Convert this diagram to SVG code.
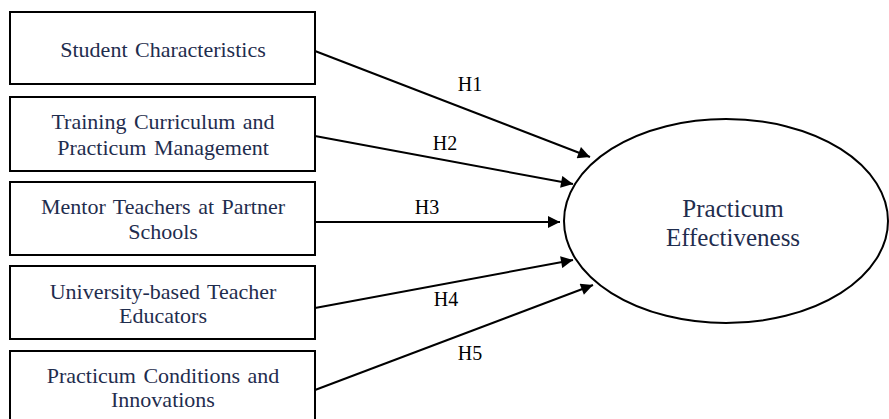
<svg xmlns="http://www.w3.org/2000/svg" width="889" height="419" viewBox="0 0 889 419">
<style>
.box{fill:#fff;stroke:#000;stroke-width:2}
.t{font-family:'Liberation Serif','DejaVu Serif','Times New Roman',serif;font-size:22px;word-spacing:2px;fill:#1f2d4e;text-anchor:middle}
.big{font-size:25px;word-spacing:0}
.lbl{font-family:'Liberation Serif','DejaVu Serif','Times New Roman',serif;font-size:20px;fill:#000;text-anchor:middle}
.c{stroke:#000;stroke-width:2;fill:none;marker-end:url(#ah)}
</style>
<defs>
<marker id="ah" viewBox="0 0 10 10" refX="10" refY="5" markerWidth="6.5" markerHeight="6" markerUnits="strokeWidth" orient="auto">
<path d="M0,0 L10,5 L0,10 z" fill="#000"/>
</marker>
</defs>
<rect width="889" height="419" fill="#fff"/>
<g id="n1"><rect class="box" x="10" y="12" width="305" height="72"/><text class="t" x="163" y="57">Student Characteristics</text></g>
<g id="n2"><rect class="box" x="10" y="97" width="305" height="74"/><text class="t" x="163" y="129">Training Curriculum and</text><text class="t" x="163" y="155">Practicum Management</text></g>
<g id="n3"><rect class="box" x="10" y="182" width="305" height="73"/><text class="t" x="163" y="214">Mentor Teachers at Partner</text><text class="t" x="163" y="239">Schools</text></g>
<g id="n4"><rect class="box" x="10" y="266" width="305" height="73"/><text class="t" x="163" y="299">University-based Teacher</text><text class="t" x="163" y="323">Educators</text></g>
<g id="n5"><rect class="box" x="10" y="351" width="305" height="70"/><text class="t" x="163" y="383">Practicum Conditions and</text><text class="t" x="163" y="407">Innovations</text></g>
<g id="n6"><ellipse cx="726" cy="221" rx="162" ry="102" fill="#fff" stroke="#000" stroke-width="2"/><text class="t big" x="733" y="217">Practicum</text><text class="t big" x="733" y="246">Effectiveness</text></g>
<g id="connectors">
<line class="c" x1="315" y1="51" x2="590" y2="157"/>
<line class="c" x1="315" y1="136" x2="573" y2="184"/>
<line class="c" x1="315" y1="222" x2="560" y2="222"/>
<line class="c" x1="315" y1="308" x2="573" y2="260"/>
<line class="c" x1="315" y1="390" x2="593" y2="285"/>
<text class="lbl" x="470" y="91">H1</text>
<text class="lbl" x="445" y="150">H2</text>
<text class="lbl" x="427" y="214">H3</text>
<text class="lbl" x="446" y="306">H4</text>
<text class="lbl" x="470" y="360">H5</text>
</g>
</svg>
